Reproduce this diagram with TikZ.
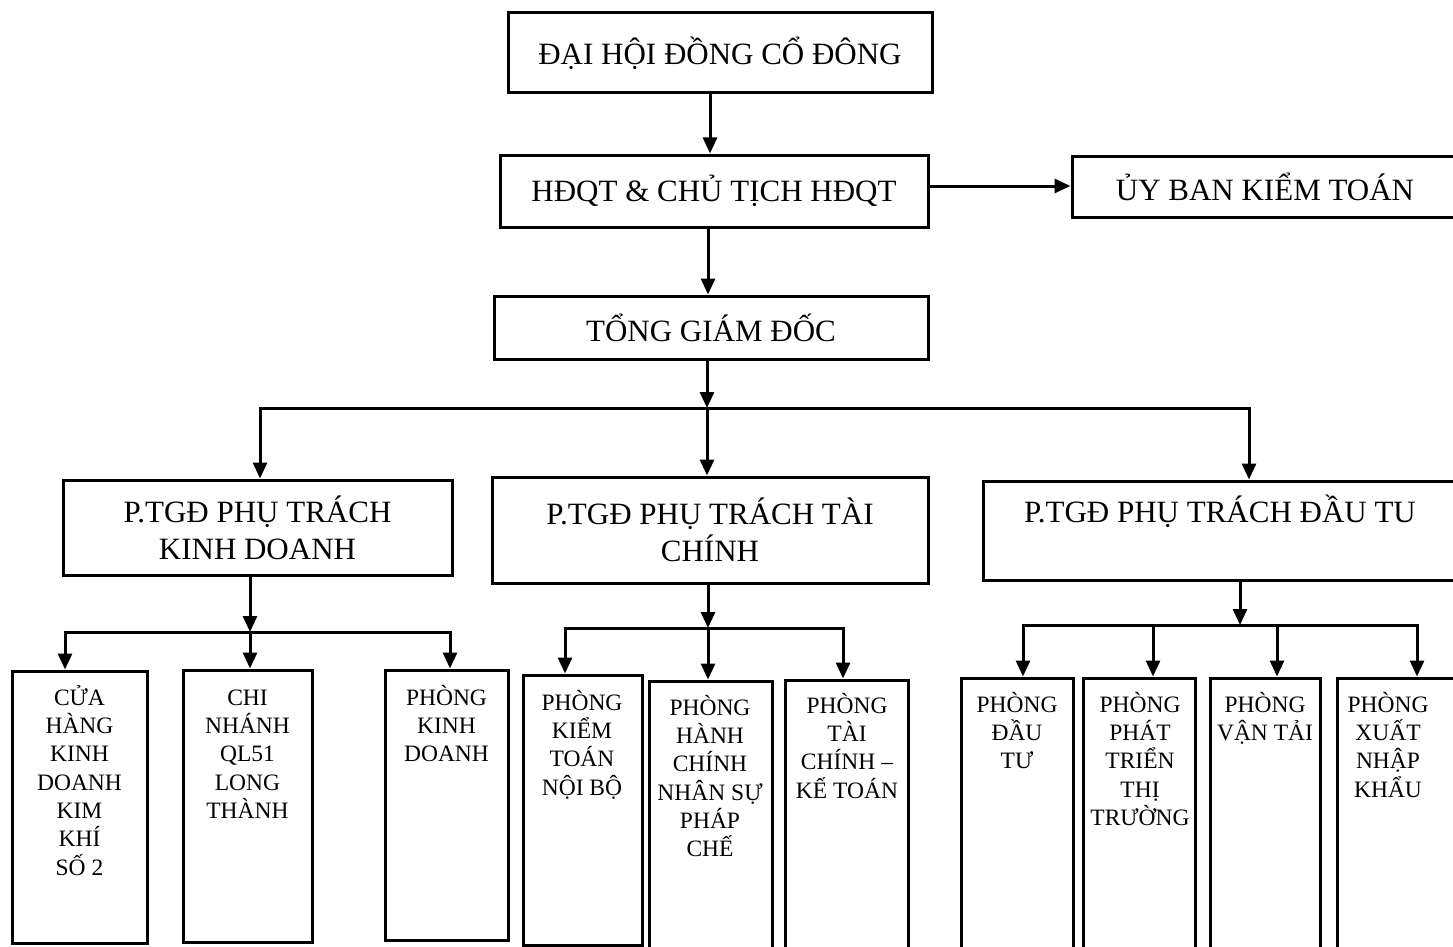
\documentclass[tikz,border=0pt]{standalone}
\usepackage{fontspec}
\setmainfont{Liberation Serif}
\usetikzlibrary{arrows.meta}
\newcommand\topstrut{\rule{0pt}{22pt}}
\begin{document}
\begin{tikzpicture}[x=1pt,y=-1pt,
  box/.style={draw, line width=3pt, inner sep=0pt},
  big/.style={font=\fontsize{31}{37}\selectfont, align=center},
  small/.style={font=\fontsize{23.5}{28.3}\selectfont, align=center, inner sep=0pt, anchor=north},
  conn/.style={line width=3pt, line cap=rect},
  arr/.style={line width=3pt, -{Triangle[length=16pt,width=14pt]}},
]
\useasboundingbox (0,0) rectangle (1453,947);

% top levels
\node[box, big, minimum width=424, minimum height=80] (b1) at (720,53) {ĐẠI HỘI ĐỒNG CỔ ĐÔNG};
\node[box, big, minimum width=428, minimum height=72] (b2) at (714,191) {HĐQT \& CHỦ TỊCH HĐQT};
\node[box, big, minimum width=386, minimum height=61] (ub) at (1265,186.5) {ỦY BAN KIỂM TOÁN};
\node[box, big, minimum width=434, minimum height=63] (b3) at (711,327.5) {TỔNG GIÁM ĐỐC};
\node[box, big, minimum width=389, minimum height=95] (b4) at (257.5,527.5) {P.TGĐ PHỤ TRÁCH\\KINH DOANH};
\node[box, big, minimum width=436, minimum height=106] (b5) at (710,530) {P.TGĐ PHỤ TRÁCH TÀI\\CHÍNH};
\node[box, minimum width=475, minimum height=99] (b6) at (1220.5,530.5) {};
\node[big, anchor=base] (b6t) at (1220,522) {P.TGĐ PHỤ TRÁCH ĐẦU TU};

% children boxes
\node[box, minimum width=135, minimum height=272] (c1) at (79.5,807) {};
\node[box, minimum width=129, minimum height=272] (c2) at (247.5,806) {};
\node[box, minimum width=123, minimum height=270] (c3) at (446.5,805) {};
\node[box, minimum width=119, minimum height=270] (d1) at (582.5,810) {};
\node[box, minimum width=123, minimum height=279] (d2) at (710.5,820.5) {};
\node[box, minimum width=123, minimum height=280] (d3) at (846.5,820) {};
\node[box, minimum width=112, minimum height=282] (e1) at (1017,819) {};
\node[box, minimum width=112, minimum height=282] (e2) at (1139,819) {};
\node[box, minimum width=110, minimum height=282] (e3) at (1265,819) {};
\node[box, minimum width=133, minimum height=282] (e4) at (1403.5,819) {};

% children texts
\node[small] (c1t) at (79.5,683) {\topstrut CỬA\\HÀNG\\KINH\\DOANH\\KIM\\KHÍ\\SỐ 2};
\node[small] (c2t) at (247.5,683) {\topstrut CHI\\NHÁNH\\QL51\\LONG\\THÀNH};
\node[small] (c3t) at (446.5,683) {\topstrut PHÒNG\\KINH\\DOANH};
\node[small] (d1t) at (582,688) {\topstrut PHÒNG\\KIỂM\\TOÁN\\NỘI BỘ};
\node[small] (d2t) at (710,693) {\topstrut PHÒNG\\HÀNH\\CHÍNH\\NHÂN SỰ\\PHÁP\\CHẾ};
\node[small] (d3t) at (847,691) {\topstrut PHÒNG\\TÀI\\CHÍNH –\\KẾ TOÁN};
\node[small] (e1t) at (1017,690) {\topstrut PHÒNG\\ĐẦU\\TƯ};
\node[small] (e2t) at (1140,690) {\topstrut PHÒNG\\PHÁT\\TRIỂN\\THỊ\\TRƯỜNG};
\node[small] (e3t) at (1265,690) {\topstrut PHÒNG\\VẬN TẢI};
\node[small] (e4t) at (1388,690) {\topstrut PHÒNG\\XUẤT\\NHẬP\\KHẨU};

% upper connectors
\draw[arr] (710,0 |- b1.south) -- (710,0 |- b2.north);
\draw[arr] (b2.east |- 0,186) -- (ub.west |- 0,186);
\draw[arr] (708,0 |- b2.south) -- (708,0 |- b3.north);

% bus 1
\coordinate (k1) at (260,408);
\coordinate (k2) at (707,408);
\coordinate (k3) at (1249,408);
\draw[arr] (707,0 |- b3.south) -- (k2);
\draw[conn] (k1) -- (k3);
\draw[arr] (k1) -- (k1 |- b4.north);
\draw[arr] (k2) -- (k2 |- b5.north);
\draw[arr] (k3) -- (k3 |- b6.north);

% bus KD
\coordinate (p1) at (65,632);
\coordinate (p2) at (250,632);
\coordinate (p3) at (450,632);
\draw[arr] (250,0 |- b4.south) -- (p2);
\draw[conn] (p1) -- (p3);
\draw[arr] (p1) -- (p1 |- c1.north);
\draw[arr] (p2) -- (p2 |- c2.north);
\draw[arr] (p3) -- (p3 |- c3.north);

% bus TC
\coordinate (q1) at (565,628);
\coordinate (q2) at (708,628);
\coordinate (q3) at (843,628);
\draw[arr] (708,0 |- b5.south) -- (q2);
\draw[conn] (q1) -- (q3);
\draw[arr] (q1) -- (q1 |- d1.north);
\draw[arr] (q2) -- (q2 |- d2.north);
\draw[arr] (q3) -- (q3 |- d3.north);

% bus DT
\coordinate (r0) at (1240,625);
\coordinate (r1) at (1023,625);
\coordinate (r2) at (1153,625);
\coordinate (r3) at (1277,625);
\coordinate (r4) at (1417,625);
\draw[arr] (1240,0 |- b6.south) -- (r0);
\draw[conn] (r1) -- (r4);
\draw[arr] (r1) -- (r1 |- e1.north);
\draw[arr] (r2) -- (r2 |- e2.north);
\draw[arr] (r3) -- (r3 |- e3.north);
\draw[arr] (r4) -- (r4 |- e4.north);
\end{tikzpicture}
\end{document}
